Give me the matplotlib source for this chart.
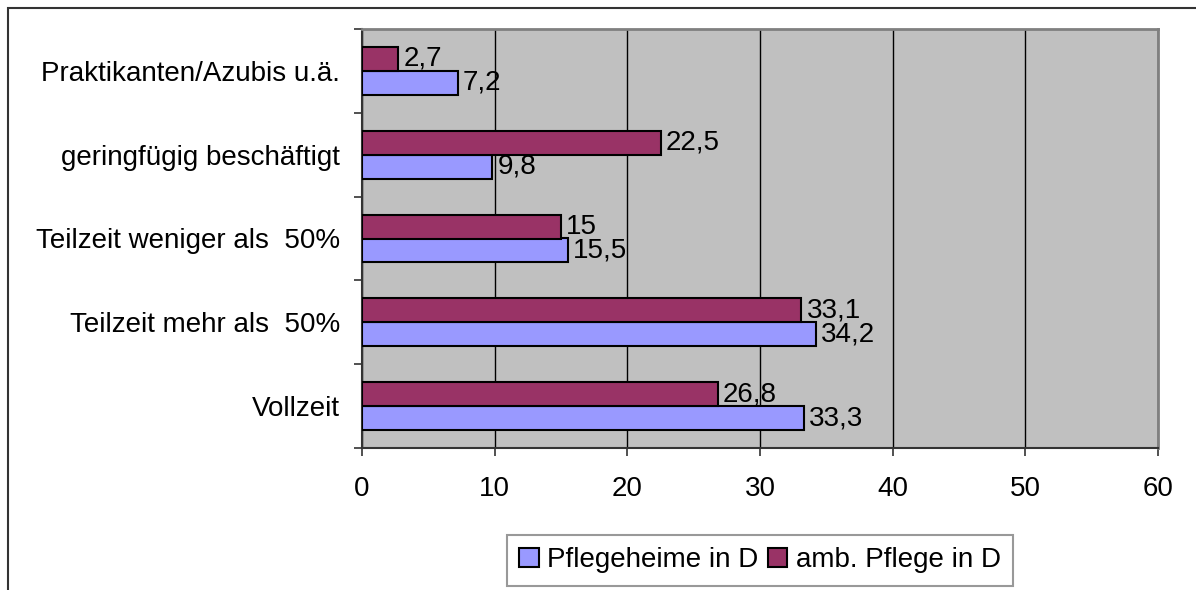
import matplotlib
matplotlib.use('Agg')
import matplotlib.pyplot as plt
from matplotlib.patches import Rectangle
import numpy as np

plt.rcParams['font.family'] = ['Liberation Sans', 'DejaVu Sans']

# data (bottom to top)
categories = ['Vollzeit', 'Teilzeit mehr als  50%', 'Teilzeit weniger als  50%',
              'geringfügig beschäftigt', 'Praktikanten/Azubis u.ä.']
heime = [33.3, 34.2, 15.5, 9.8, 7.2]
amb = [26.8, 33.1, 15, 22.5, 2.7]
heime_labels = ['33,3', '34,2', '15,5', '9,8', '7,2']
amb_labels = ['26,8', '33,1', '15', '22,5', '2,7']
xticks = [0, 10, 20, 30, 40, 50, 60]

fig = plt.figure(figsize=(11.96, 5.90), dpi=100)
ax = fig.add_axes([362/1196, 1 - 448/590, (1158 - 362)/1196, (448 - 29)/590])

# outer frame of the chart
fig.patches.append(Rectangle((8/1196, -0.1), 1.2, 1 - 8/590 + 0.1, transform=fig.transFigure,
                             fill=False, edgecolor='#333333', linewidth=1.5))

ax.set_facecolor('#C0C0C0')
y = np.arange(len(categories))
h = 0.286
b1 = ax.barh(y - h/2, heime, height=h, color='#9999FF', edgecolor='black', linewidth=1.5,
             label='Pflegeheime in D', zorder=3)
b2 = ax.barh(y + h/2, amb, height=h, color='#993366', edgecolor='black', linewidth=1.5,
             label='amb. Pflege in D', zorder=3)

for yi, v, t in zip(y - h/2, heime, heime_labels):
    ax.text(v + 0.4, yi, t, va='center', ha='left', fontsize=20, zorder=4)
for yi, v, t in zip(y + h/2, amb, amb_labels):
    ax.text(v + 0.4, yi, t, va='center', ha='left', fontsize=20, zorder=4)

ax.set_xlim(0, 60)
ax.set_ylim(-0.5, len(categories) - 0.5)
ax.set_xticks(xticks)
ax.set_xticklabels([str(x) for x in xticks], fontsize=20)
ax.xaxis.grid(True, color='black', linewidth=1)
ax.set_axisbelow(True)

# category labels centred, ticks on the boundaries
ax.set_yticks(np.arange(-0.5, len(categories), 1.0))
ax.set_yticklabels([])
ax.set_yticks(y, minor=True)
ax.set_yticklabels(categories, minor=True, fontsize=20)
ax.tick_params(axis='y', which='minor', length=0, pad=16)
ax.tick_params(axis='y', which='major', length=6, width=1.2, direction='out', color='#333333')
ax.tick_params(axis='x', length=6, width=1.2, direction='out', pad=14, color='#333333')

for s in ['top', 'right']:
    ax.spines[s].set_color('#808080')
    ax.spines[s].set_linewidth(2)
for s in ['left', 'bottom']:
    ax.spines[s].set_color('#333333')
    ax.spines[s].set_linewidth(1.5)

leg = ax.legend(handles=[b1, b2], loc='center', bbox_to_anchor=(760/1196, 1 - 560/590),
                bbox_transform=fig.transFigure, ncol=2, fontsize=20, frameon=True,
                fancybox=False, handlelength=0.7, handleheight=0.7, handletextpad=0.3,
                columnspacing=0.35, borderpad=0.45)
leg.get_frame().set_edgecolor('#808080')
leg.get_frame().set_linewidth(1.5)

fig.savefig('out.png', dpi=100)
